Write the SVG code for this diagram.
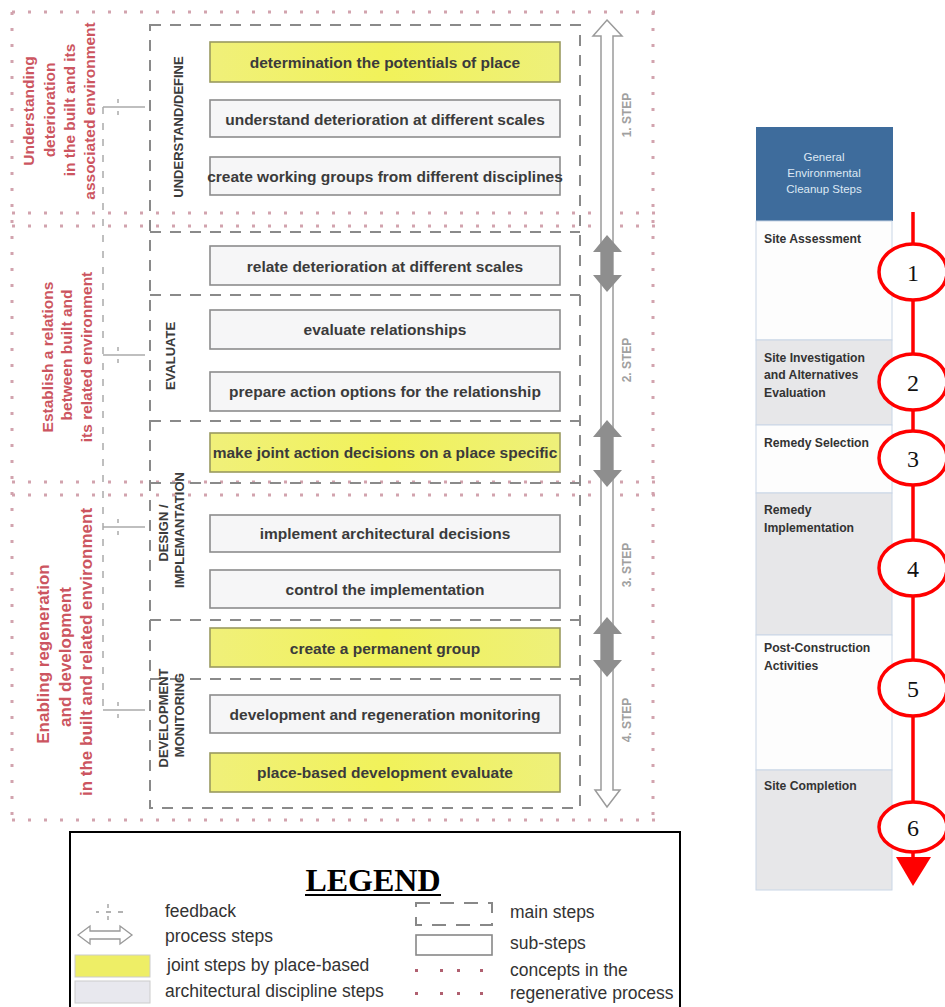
<svg xmlns="http://www.w3.org/2000/svg" width="945" height="1007" viewBox="0 0 945 1007">
<style>
.concept{stroke:#d2a3ae;stroke-width:3;stroke-dasharray:3 13;fill:none}
.main{stroke:#8a8a8a;stroke-width:2;stroke-dasharray:11 9;fill:none}
.fb{stroke:#aaa;stroke-width:1.5;stroke-dasharray:7 9;fill:none}
.sub{fill:#f6f6f7;stroke:#8c8c8c;stroke-width:1.6}
.joint{fill:url(#yel);stroke:#9a9a60;stroke-width:1.6}
.bt{font-family:"Liberation Sans",Arial,sans-serif;font-weight:bold;font-size:15.5px;fill:#3b3b3b;text-anchor:middle;dominant-baseline:central}
.red{font-family:"Liberation Sans",Arial,sans-serif;font-weight:bold;font-size:15.5px;fill:#cc5560;text-anchor:middle;dominant-baseline:central}
.red3{font-size:17px}
.cap{font-family:"Liberation Sans",Arial,sans-serif;font-weight:bold;font-size:13px;fill:#3b3b3b;text-anchor:middle;dominant-baseline:central}
.stp{font-family:"Liberation Sans",Arial,sans-serif;font-weight:bold;font-size:12px;fill:#a0a0a0;text-anchor:middle;dominant-baseline:central}
.tb{font-family:"Liberation Sans",Arial,sans-serif;font-size:12.2px;fill:#333;font-weight:bold}
.th{font-family:"Liberation Sans",Arial,sans-serif;font-size:11.5px;fill:#dde8f3;text-anchor:middle}
.lg{font-family:"Liberation Sans",Arial,sans-serif;font-size:17.5px;fill:#333}
.num{font-family:"Liberation Serif","Times New Roman",serif;font-size:24px;fill:#111;text-anchor:middle;dominant-baseline:central}
.ell{fill:#fff;stroke:#f00;stroke-width:3.5}
</style>
<defs>
<linearGradient id="yel" x1="0" y1="0" x2="1" y2="0">
<stop offset="0" stop-color="#f0f07a"/>
<stop offset="0.5" stop-color="#f1f25a"/>
<stop offset="1" stop-color="#eef07a"/>
</linearGradient>
</defs>
<rect width="945" height="1007" fill="#fff"/>

<!-- concept dotted lines -->
<g id="concepts">
<line class="concept" x1="12" y1="12" x2="656" y2="12"/>
<line class="concept" x1="12" y1="213" x2="656" y2="213"/>
<line class="concept" x1="12" y1="226" x2="656" y2="226"/>
<line class="concept" x1="12" y1="482" x2="656" y2="482"/>
<line class="concept" x1="12" y1="495" x2="656" y2="495"/>
<line class="concept" x1="12" y1="820" x2="656" y2="820"/>
<line class="concept" x1="12" y1="12" x2="12" y2="820"/>
<line class="concept" x1="653" y1="12" x2="653" y2="820"/>
</g>

<!-- concept labels -->
<g id="concept1">
<text class="red" transform="translate(28,111) rotate(-90)">Understanding</text>
<text class="red" transform="translate(49,110) rotate(-90)">deterioration</text>
<text class="red" transform="translate(69,110) rotate(-90)">in the built and its</text>
<text class="red" transform="translate(89,111) rotate(-90)">associated environment</text>
</g>
<g id="concept2">
<text class="red" transform="translate(47,357) rotate(-90)">Establish a relations</text>
<text class="red" transform="translate(66,355) rotate(-90)">between built and</text>
<text class="red" transform="translate(86,357) rotate(-90)">its related environment</text>
</g>
<g id="concept3">
<text class="red red3" transform="translate(43,654) rotate(-90)">Enabling regeneration</text>
<text class="red red3" transform="translate(65,657) rotate(-90)">and development</text>
<text class="red red3" transform="translate(86,652) rotate(-90)">in the built and related environment</text>
</g>

<!-- main steps dashed frame -->
<g id="mainsteps">
<rect class="main" x="150" y="25" width="430" height="783"/>
<line class="main" x1="150" y1="232" x2="580" y2="232"/>
<line class="main" x1="150" y1="295" x2="580" y2="295"/>
<line class="main" x1="150" y1="421" x2="580" y2="421"/>
<line class="main" x1="150" y1="483" x2="580" y2="483"/>
<line class="main" x1="150" y1="620" x2="580" y2="620"/>
<line class="main" x1="150" y1="679" x2="580" y2="679"/>
</g>

<g id="labels">
<text class="cap" transform="translate(178,127) rotate(-90)">UNDERSTAND/DEFINE</text>
<text class="cap" transform="translate(170,356) rotate(-90)">EVALUATE</text>
<text class="cap" transform="translate(163,533) rotate(-90)">DESIGN /</text>
<text class="cap" transform="translate(179,530) rotate(-90)">IMPLEMANTATION</text>
<text class="cap" transform="translate(163,718) rotate(-90)">DEVELOPMENT</text>
<text class="cap" transform="translate(179,715) rotate(-90)">MONITORING</text>
</g>

<!-- sub-steps -->
<g id="s1"><rect class="joint" x="210" y="42" width="350" height="40"/><text class="bt" x="385" y="62">determination the potentials of place</text></g>
<g id="s2"><rect class="sub" x="210" y="100" width="350" height="37"/><text class="bt" x="385" y="119">understand deterioration at different scales</text></g>
<g id="s3"><rect class="sub" x="210" y="157" width="350" height="38"/><text class="bt" x="385" y="176">create working groups from different disciplines</text></g>
<g id="s4"><rect class="sub" x="210" y="246" width="350" height="39"/><text class="bt" x="385" y="266">relate deterioration at different scales</text></g>
<g id="s5"><rect class="sub" x="210" y="310" width="350" height="39"/><text class="bt" x="385" y="329">evaluate relationships</text></g>
<g id="s6"><rect class="sub" x="210" y="372" width="350" height="39"/><text class="bt" x="385" y="391">prepare action options for the relationship</text></g>
<g id="s7"><rect class="joint" x="210" y="433" width="350" height="39"/><text class="bt" x="385" y="452">make joint action decisions on a place specific</text></g>
<g id="s8"><rect class="sub" x="210" y="515" width="350" height="37"/><text class="bt" x="385" y="533">implement architectural decisions</text></g>
<g id="s9"><rect class="sub" x="210" y="570" width="350" height="38"/><text class="bt" x="385" y="589">control the implementation</text></g>
<g id="s10"><rect class="joint" x="210" y="628" width="350" height="39"/><text class="bt" x="385" y="648">create a permanent group</text></g>
<g id="s11"><rect class="sub" x="210" y="695" width="350" height="38"/><text class="bt" x="385" y="714">development and regeneration monitoring</text></g>
<g id="s12"><rect class="joint" x="210" y="753" width="350" height="39"/><text class="bt" x="385" y="772">place-based development evaluate</text></g>

<!-- connectors: feedback, process arrows -->
<g id="connectors">
<line class="fb" x1="103" y1="107" x2="103" y2="712"/>
<g stroke="#aaa" stroke-width="1.5" fill="none">
<path d="M103 107 H145 M118 99 v4 M118 111 v4"/>
<path d="M103 355 H145 M118 347 v4 M118 359 v4"/>
<path d="M103 527 H145 M118 519 v4 M118 531 v4"/>
<path d="M103 710 H145 M118 702 v4 M118 714 v4"/>
</g>
<path d="M607 20 L622 36 L613 36 L613 790 L620 790 L607 807 L595 790 L601 790 L601 36 L593 36 Z" fill="#fff" stroke="#9a9a9a" stroke-width="1.5"/>
<path d="M607 235 L622 252 L613 252 L613 275 L622 275 L607 292 L593 275 L601 275 L601 252 L593 252 Z" fill="#8e8e8e"/>
<path d="M607 420 L622 437 L613 437 L613 470 L622 470 L607 487 L593 470 L601 470 L601 437 L593 437 Z" fill="#8e8e8e"/>
<path d="M607 617 L622 634 L613 634 L613 660 L622 660 L607 677 L593 660 L601 660 L601 634 L593 634 Z" fill="#8e8e8e"/>
</g>
<g id="steplabels">
<text class="stp" transform="translate(627,115) rotate(-90)">1. STEP</text>
<text class="stp" transform="translate(627,360) rotate(-90)">2. STEP</text>
<text class="stp" transform="translate(627,565) rotate(-90)">3. STEP</text>
<text class="stp" transform="translate(627,720) rotate(-90)">4. STEP</text>
</g>

<!-- legend -->
<g id="legend">
<rect x="70" y="832" width="610" height="185" fill="#fff" stroke="#000" stroke-width="2"/>
<text x="373" y="891" text-anchor="middle" font-family="'Liberation Serif','Times New Roman',serif" font-weight="bold" font-size="32" fill="#000">LEGEND</text>
<line x1="305" y1="895" x2="441" y2="895" stroke="#000" stroke-width="2"/>
<g stroke="#999" stroke-width="1.3" fill="none">
<path d="M96 912 h3 M106 912 h5 M118 912 h5 M108 904 v4 M108 916 v4"/>
</g>
<path d="M78 935 L90 926 L90 931 L120 931 L120 926 L132 935 L120 944 L120 939 L90 939 L90 944 Z" fill="#fff" stroke="#999" stroke-width="1.3"/>
<rect x="75" y="955" width="75" height="22" fill="#eeee66" stroke="#ccc"/>
<rect x="75" y="981" width="75" height="22" fill="#e8e8ee" stroke="#ccc"/>
<rect x="416" y="903" width="76" height="22" fill="none" stroke="#888" stroke-width="2" stroke-dasharray="14 10"/>
<rect x="416" y="935" width="76" height="20" fill="none" stroke="#888" stroke-width="1.6"/>
<g fill="#b06070">
<rect x="415" y="969" width="3" height="3"/><rect x="440" y="969" width="3" height="3"/><rect x="457" y="969" width="3" height="3"/><rect x="480" y="969" width="3" height="3"/>
<rect x="415" y="992" width="3" height="3"/><rect x="440" y="992" width="3" height="3"/><rect x="457" y="992" width="3" height="3"/><rect x="480" y="992" width="3" height="3"/>
</g>
<text class="lg" x="165" y="917">feedback</text>
<text class="lg" x="165" y="942">process steps</text>
<text class="lg" x="167" y="971">joint steps by place-based</text>
<text class="lg" x="165" y="997">architectural discipline steps</text>
<text class="lg" x="510" y="918">main steps</text>
<text class="lg" x="510" y="949">sub-steps</text>
<text class="lg" x="510" y="976">concepts in the</text>
<text class="lg" x="510" y="999">regenerative process</text>
</g>

<!-- cleanup table -->
<g id="table">
<rect x="756" y="127" width="137" height="94" fill="#3e6c9c"/>
<text class="th" x="824" y="161">General</text>
<text class="th" x="824" y="177">Environmental</text>
<text class="th" x="824" y="193">Cleanup Steps</text>
<rect x="756" y="221" width="136" height="119" fill="#fdfdfd" stroke="#c9d6e6"/>
<rect x="756" y="340" width="136" height="85" fill="#e7e7e9" stroke="#c9d6e6"/>
<rect x="756" y="425" width="136" height="68" fill="#fdfdfd" stroke="#c9d6e6"/>
<rect x="756" y="493" width="136" height="142" fill="#e7e7e9" stroke="#c9d6e6"/>
<rect x="756" y="635" width="136" height="135" fill="#fdfdfd" stroke="#c9d6e6"/>
<rect x="756" y="770" width="136" height="120" fill="#e7e7e9" stroke="#c9d6e6"/>
<text class="tb" x="764" y="243">Site Assessment</text>
<text class="tb" x="764" y="362">Site Investigation</text>
<text class="tb" x="764" y="379">and Alternatives</text>
<text class="tb" x="764" y="397">Evaluation</text>
<text class="tb" x="764" y="447">Remedy Selection</text>
<text class="tb" x="764" y="514">Remedy</text>
<text class="tb" x="764" y="532">Implementation</text>
<text class="tb" x="764" y="652">Post-Construction</text>
<text class="tb" x="764" y="670">Activities</text>
<text class="tb" x="764" y="790">Site Completion</text>
</g>

<!-- red timeline -->
<g id="timeline">
<line x1="913" y1="212" x2="913" y2="862" stroke="#f00" stroke-width="3.5"/>
<polygon points="896,857 931,857 913,886" fill="#f00"/>
</g>
<g id="n1"><ellipse class="ell" cx="913" cy="272" rx="34" ry="28"/><text class="num" x="913" y="273">1</text></g>
<g id="n2"><ellipse class="ell" cx="913" cy="382" rx="34" ry="28"/><text class="num" x="913" y="383">2</text></g>
<g id="n3"><ellipse class="ell" cx="913" cy="458" rx="34" ry="27"/><text class="num" x="913" y="459">3</text></g>
<g id="n4"><ellipse class="ell" cx="913" cy="568" rx="34" ry="28"/><text class="num" x="913" y="569">4</text></g>
<g id="n5"><ellipse class="ell" cx="913" cy="688" rx="34" ry="28"/><text class="num" x="913" y="689">5</text></g>
<g id="n6"><ellipse class="ell" cx="913" cy="827" rx="34" ry="25"/><text class="num" x="913" y="828">6</text></g>
</svg>
